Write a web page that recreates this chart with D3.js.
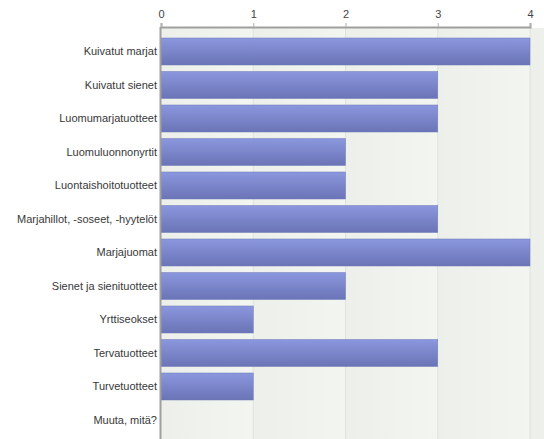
<!DOCTYPE html>
<html><head><meta charset="utf-8">
<script src="https://cdn.jsdelivr.net/npm/d3@7/dist/d3.min.js"></script>
<style>body{margin:0;background:#fff;}svg{display:block;font-family:"Liberation Sans",Arial,sans-serif;}</style>
</head><body><svg id="c" width="544" height="439"></svg>
<script>
const categories = ["Kuivatut marjat","Kuivatut sienet","Luomumarjatuotteet","Luomuluonnonyrtit","Luontaishoitotuotteet","Marjahillot, -soseet, -hyytelöt","Marjajuomat","Sienet ja sienituotteet","Yrttiseokset","Tervatuotteet","Turvetuotteet","Muuta, mitä?"];
const values = [4,3,3,2,2,3,4,2,1,3,1,0];
const ticks = [0,1,2,3,4];

const svg = d3.select("#c");
const x = d3.scaleLinear().domain([0,4]).range([161,530]);
const y = d3.scaleBand().domain(categories).range([34.75,436.75]).paddingInner(0.194).paddingOuter(0.097);

const defs = svg.append("defs");
const g1 = defs.append("linearGradient").attr("id","bar").attr("x1",0).attr("y1",0).attr("x2",0).attr("y2",1);
g1.append("stop").attr("offset","0%").attr("stop-color","#8b97de");
g1.append("stop").attr("offset","100%").attr("stop-color","#6a74b6");
const g2 = defs.append("linearGradient").attr("id","bg").attr("spreadMethod","repeat")
  .attr("gradientUnits","userSpaceOnUse").attr("x1",x(0)).attr("x2",x(1)).attr("y1",0).attr("y2",0);
g2.append("stop").attr("offset","0%").attr("stop-color","#ecefea");
g2.append("stop").attr("offset","100%").attr("stop-color","#f3f5f1");

svg.append("rect").attr("x",x(0)).attr("y",28).attr("width",544-x(0)).attr("height",439-28).attr("fill","url(#bg)");

svg.append("g").selectAll("line").data(ticks.slice(1)).join("line")
  .attr("x1",d=>x(d)).attr("x2",d=>x(d)).attr("y1",28).attr("y2",439)
  .attr("stroke","#dfe2dd").attr("stroke-width",1);

svg.append("g").selectAll("rect").data(categories).join("rect")
  .attr("x",x(0)).attr("y",d=>y(d)).attr("height",y.bandwidth())
  .attr("width",(d,i)=>x(values[i])-x(0))
  .attr("fill","url(#bar)").attr("stroke","#6f78b8").attr("stroke-width",0.5)
  .attr("display",(d,i)=>values[i]>0?null:"none");

const ax = svg.append("g").attr("transform","translate(0,27)")
  .call(d3.axisTop(x).tickValues(ticks).tickFormat(d3.format("d")).tickSize(4).tickPadding(5));
ax.select(".domain").attr("stroke","#a0a0a0").attr("stroke-width",2);
ax.selectAll(".tick line").attr("stroke","#b0b0b0");
ax.selectAll(".tick text").attr("fill","#444").attr("font-size",11);

svg.append("line").attr("x1",160.5).attr("x2",160.5).attr("y1",27).attr("y2",439).attr("stroke","#a0a0a0").attr("stroke-width",2);

svg.append("g").selectAll("text").data(categories).join("text")
  .attr("x",157).attr("y",d=>y(d)+y.bandwidth()/2).attr("dy","0.35em")
  .attr("text-anchor","end").attr("font-size",11).attr("fill","#383838").text(d=>d);
</script></body></html>
